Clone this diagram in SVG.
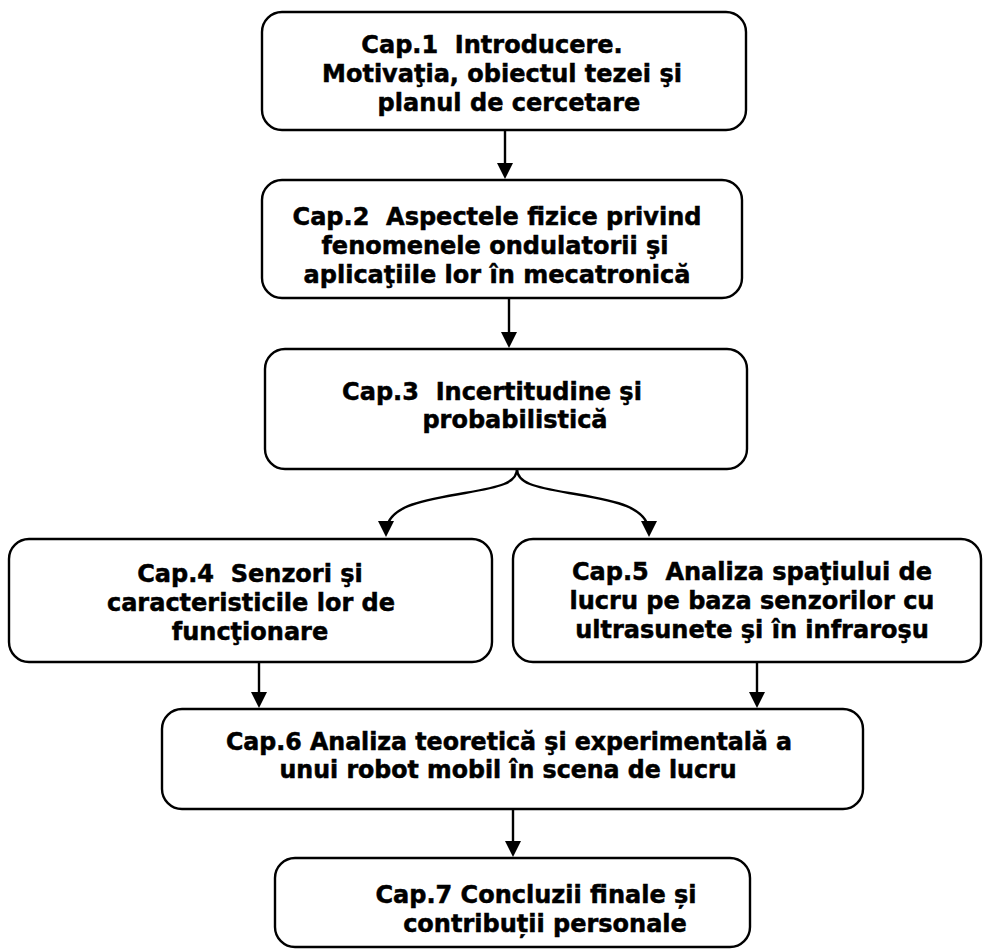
<svg xmlns="http://www.w3.org/2000/svg" width="983" height="949" viewBox="0 0 983 949">
  <style>
    .box { fill: #ffffff; stroke: #000000; stroke-width: 2.4; }
    .lbl { font-family: "DejaVu Sans", Verdana, sans-serif; font-weight: bold; font-size: 24px; fill: #000000; stroke: #000000; stroke-width: 0.5; text-anchor: middle; }
    .cond { font-family: "DejaVu Sans Condensed", "DejaVu Sans", sans-serif; font-stretch: condensed; }
    .edge { fill: none; stroke: #000000; stroke-width: 2.4; marker-end: url(#arrow); }
  </style>
  <defs>
    <marker id="arrow" markerUnits="userSpaceOnUse" markerWidth="18" markerHeight="18" viewBox="0 0 18 18" refX="12" refY="9" orient="auto">
      <path d="M0,1 L16,9 L0,17 Z" fill="#000000"/>
    </marker>
  </defs>
  <rect width="983" height="949" fill="#ffffff"/>

  <g id="connectors">
    <path class="edge" d="M505,130 L505,175"/>
    <path class="edge" d="M509,298 L509,344"/>
    <path class="edge" d="M517,469 C517,483 500,487 465,493 C425,500 386,505 386,533"/>
    <path class="edge" d="M517,469 C517,483 534,487 569,493 C609,500 649,505 649,533"/>
    <path class="edge" d="M259,662 L259,704"/>
    <path class="edge" d="M757,662 L757,704"/>
    <path class="edge" d="M513,809 L513,853"/>
  </g>

  <g id="cap1">
    <rect class="box" x="262" y="12" width="484" height="118" rx="20"/>
    <text class="lbl" x="492" y="53">Cap.1 &#160;Introducere.</text>
    <text class="lbl" x="502" y="82">Motivaţia, obiectul tezei şi</text>
    <text class="lbl" x="509" y="111">planul de cercetare</text>
  </g>

  <g id="cap2">
    <rect class="box" x="262" y="180" width="480" height="118" rx="20"/>
    <text class="lbl" x="497" y="225">Cap.2 &#160;Aspectele fizice privind</text>
    <text class="lbl" x="495" y="254">fenomenele ondulatorii şi</text>
    <text class="lbl" x="497" y="283">aplicaţiile lor în mecatronică</text>
  </g>

  <g id="cap3">
    <rect class="box" x="265" y="349" width="482" height="120" rx="20"/>
    <text class="lbl" x="492" y="400">Cap.3 &#160;Incertitudine şi</text>
    <text class="lbl" x="515" y="428">probabilistică</text>
  </g>

  <g id="cap4">
    <rect class="box" x="9" y="539" width="483" height="123" rx="20"/>
    <text class="lbl" x="250" y="582">Cap.4 &#160;Senzori şi</text>
    <text class="lbl" x="251" y="611">caracteristicile lor de</text>
    <text class="lbl" x="250" y="640">funcţionare</text>
  </g>

  <g id="cap5">
    <rect class="box" x="513" y="539" width="468" height="123" rx="20"/>
    <text class="lbl" x="752" y="580">Cap.5 &#160;Analiza spaţiului de</text>
    <text class="lbl" x="752" y="609">lucru pe baza senzorilor cu</text>
    <text class="lbl" x="752" y="638">ultrasunete şi în infraroşu</text>
  </g>

  <g id="cap6">
    <rect class="box" x="162" y="709" width="701" height="100" rx="20"/>
    <text class="lbl cond" x="509" y="750" textLength="566" lengthAdjust="spacingAndGlyphs">Cap.6 Analiza teoretică şi experimentală a</text>
    <text class="lbl cond" x="508" y="778" textLength="457" lengthAdjust="spacingAndGlyphs">unui robot mobil în scena de lucru</text>
  </g>

  <g id="cap7">
    <rect class="box" x="275" y="858" width="475" height="89" rx="20"/>
    <text class="lbl" x="536" y="903">Cap.7 Concluzii finale și</text>
    <text class="lbl" x="545" y="932">contribuții personale</text>
  </g>
</svg>
